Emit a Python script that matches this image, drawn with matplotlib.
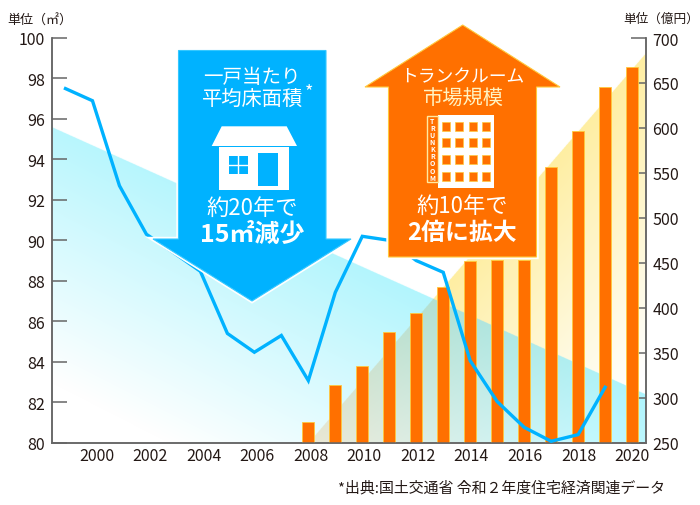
import numpy as np
import matplotlib
matplotlib.use('Agg')
import matplotlib.pyplot as plt
from matplotlib.patches import Polygon, Rectangle
from matplotlib.transforms import ScaledTranslation

plt.rcParams['font.family'] = ['Noto Sans CJK JP', 'DejaVu Sans']

# floor area per home (left axis)
area_years = list(range(1999, 2020))
area_values = [97.5, 96.9, 92.7, 90.3, 89.4, 88.47, 85.4, 84.47, 85.3, 83.07, 87.43,
               90.2, 90.0, 89.0, 88.42, 84.05, 82.03, 80.76, 80.07, 80.4, 82.74]

# trunk room market (right axis)
market_years = list(range(2008, 2021))
market_values = [273, 314.5, 335, 373, 394.6, 423.5, 452, 453.5, 453.5, 557, 596.6, 645.5, 667.8]

x_ticks = list(range(2000, 2021, 2))
left_ticks = list(range(80, 101, 2))
right_ticks = list(range(250, 701, 50))

# background wedges
blue_edge = [95.6, 82.4]      # left axis, at both ends of the plot
yellow_edge_years = [2008, 2020.5]
yellow_edge_values = [250, 683]

ORANGE = '#ff7000'
BLUE = '#00b2ff'
GRAY = '#666666'
TEXT = '#231815'
YEDGE = '#ffc93c'

fig = plt.figure(figsize=(7, 5.06), dpi=100)
L, R, T, B = 52, 645.6, 39, 443.7
ax_r = fig.add_axes([L / 700, (506 - B) / 506, (R - L) / 700, (B - T) / 506])
ax = ax_r.twinx()
ax.yaxis.tick_left()
ax_r.yaxis.tick_right()
ax.set_zorder(ax_r.get_zorder() + 1)
ax.patch.set_visible(False)

xlim = (1998.5, 2020.5)

# background, two gradient wedges laid over each other
ss = 3
w, h = int((R - L) * ss), int((B - T) * ss)
gx, gy = np.meshgrid((np.arange(w) + .5) / w, (np.arange(h) + .5) / h)   # gy from the top
years = xlim[0] + gx * (xlim[1] - xlim[0])
left_val = 100 - gy * 20
right_val = 700 - gy * 450

blue_top = blue_edge[0] + gx * (blue_edge[1] - blue_edge[0])
in_blue = left_val <= blue_top
t = np.clip((gx * .75 + (1 - gy) - .15) / .85, 0, 1)
cyan = np.array([0xa0, 0xf3, 0xfd]) / 255
layer_b = np.ones((h, w, 3))
for c in range(3):
    layer_b[..., c] = np.where(in_blue, 1 + t * (cyan[c] - 1), 1)

slope = (yellow_edge_values[1] - yellow_edge_values[0]) / (yellow_edge_years[1] - yellow_edge_years[0])
yel_top = yellow_edge_values[0] + (years - yellow_edge_years[0]) * slope
below = (yel_top - right_val) * (B - T) / 450 * .755
t = np.clip(1 - below / 240, 0, 1)
yellow = np.array([0xfe, 0xee, 0xa2]) / 255
layer_y = np.ones((h, w, 3))
for c in range(3):
    layer_y[..., c] = np.where(right_val <= yel_top, 1 + t * (yellow[c] - 1), 1)

# the overlap in the original is greyer than a plain multiply
gamma = np.array([1.0, 1.3, .42])
under_blue = np.where(in_blue[..., None], layer_y ** gamma, layer_y)
ax_r.imshow(layer_b * under_blue, extent=(xlim[0], xlim[1], 250, 700), aspect='auto',
            origin='upper', zorder=0, interpolation='antialiased')

ax_r.set_axisbelow(True)
ax_r.bar(market_years, market_values, width=.445, color=ORANGE, edgecolor=YEDGE, linewidth=.6, zorder=3)
ax_r.set_ylim(250, 700)
ax_r.set_xlim(*xlim)
ax.set_ylim(80, 100)

ax.plot(area_years, area_values, color=BLUE, linewidth=2.4, solid_joinstyle='miter', zorder=4)

# axes cosmetics
for a in (ax, ax_r):
    a.spines['top'].set_visible(False)
    for s in a.spines.values():
        s.set_color(GRAY)
        s.set_linewidth(1.1)
ax.set_yticks(left_ticks)
ax_r.set_yticks(right_ticks)
ax.tick_params(axis='y', direction='in', length=11, width=1.1, color=GRAY, labelsize=11.5,
               labelcolor=TEXT, pad=5)
ax_r.tick_params(axis='y', direction='in', length=11, width=1.1, color=GRAY, labelsize=11.5,
                 labelcolor=TEXT, pad=5)
ax_r.set_xticks(x_ticks)
ax_r.set_xticklabels([str(y) for y in x_ticks])
ax_r.tick_params(axis='x', length=0, labelsize=11.5, labelcolor=TEXT, pad=3)
ax.tick_params(axis='x', length=0, labelbottom=False)
# labels sit a touch right of the bars on the older years
for y, lab in zip(x_ticks, ax_r.get_xticklabels()):
    lab.set_transform(lab.get_transform() + ScaledTranslation((2020 - y) * .2 / 100, 0, fig.dpi_scale_trans))

# overlay in pixels for arrows and captions
ov = fig.add_axes([0, 0, 1, 1], zorder=10)
ov.set_xlim(0, 700)
ov.set_ylim(506, 0)
ov.axis('off')


def arrow(points, color, edge):
    ov.add_patch(Polygon(points, closed=True, fc='white', ec='white', lw=3.2, joinstyle='miter'))
    ov.add_patch(Polygon(points, closed=True, fc=color, ec=edge, lw=.8, joinstyle='miter'))


arrow([(178.5, 51.5), (326, 51.5), (326, 240), (351, 240), (252, 302), (153, 240), (178.5, 240)], BLUE, '#35c8ff')
arrow([(388.5, 88), (365, 88), (462.7, 26), (560, 88), (536.5, 88), (536.5, 258), (388.5, 258)], ORANGE, YEDGE)

# house icon
ov.add_patch(Polygon([(221.7, 127.3), (286.7, 127.3), (297, 147), (211.7, 147)], fc='white', ec='none'))
ov.add_patch(Rectangle((219.3, 148), 70, 42.7, fc='white', ec='none'))
ov.add_patch(Rectangle((229, 156.7), 18.7, 18.3, fc=BLUE, ec='none'))
ov.plot([238.35, 238.35], [156.7, 175], color='white', lw=1)
ov.plot([229, 247.7], [165.85, 165.85], color='white', lw=1)
ov.add_patch(Rectangle((258, 154.3), 20.3, 33, fc=BLUE, ec='none'))

# trunk room icon
ov.add_patch(Rectangle((437.7, 116), 56, 73.3, fc='white', ec='none'))
ov.add_patch(Rectangle((426.5, 116.5), 11.5, 66.8, fc=ORANGE, ec='#ffe9a0', lw=1))
for i, ch in enumerate('TRUNKROOM'):
    ov.text(432.3, 121 + i * 7.15, ch, color='white', fontsize=5, fontweight='bold', ha='center', va='center')
for wx in [442, 455.3, 468.7, 481.7]:
    for wy in [122.7, 139.3, 156, 172.7]:
        ov.add_patch(Rectangle((wx, wy), 8, 9, fc=ORANGE, ec=YEDGE, lw=.5))

# arrow captions
ov.text(252, 77, '一戸当たり', color='white', fontsize=14, ha='center', va='center')
ov.text(252.5, 99, '平均床面積', color='white', fontsize=14.6, ha='center', va='center')
ov.text(309.5, 92, '*', color='white', fontsize=13, ha='center', va='center')
ov.text(252, 208, '約20年で', color='white', fontsize=16, ha='center', va='center')
ov.text(252, 235, '15㎡減少', color='white', fontsize=18, fontweight='bold', ha='center', va='center')

ov.text(462.7, 77, 'トランクルーム', color='white', fontsize=12.8, ha='center', va='center')
ov.text(463, 99, '市場規模', color='#fff4c4', fontsize=14.6, ha='center', va='center')
ov.text(462, 206, '約10年で', color='white', fontsize=16, ha='center', va='center')
ov.text(462.5, 233, '2倍に拡大', color='white', fontsize=17.2, fontweight='bold', ha='center', va='center')

# units and source
ov.text(40, 21, '単位（㎡）', color=TEXT, fontsize=9.4, ha='center', va='center')
ov.text(699, 19, '単位（億円）', color=TEXT, fontsize=9.1, ha='right', va='center')
ov.text(665, 488, '*出典:国土交通省 令和２年度住宅経済関連データ', color=TEXT, fontsize=10.75, ha='right', va='center')

fig.savefig('out.png', dpi=100)
